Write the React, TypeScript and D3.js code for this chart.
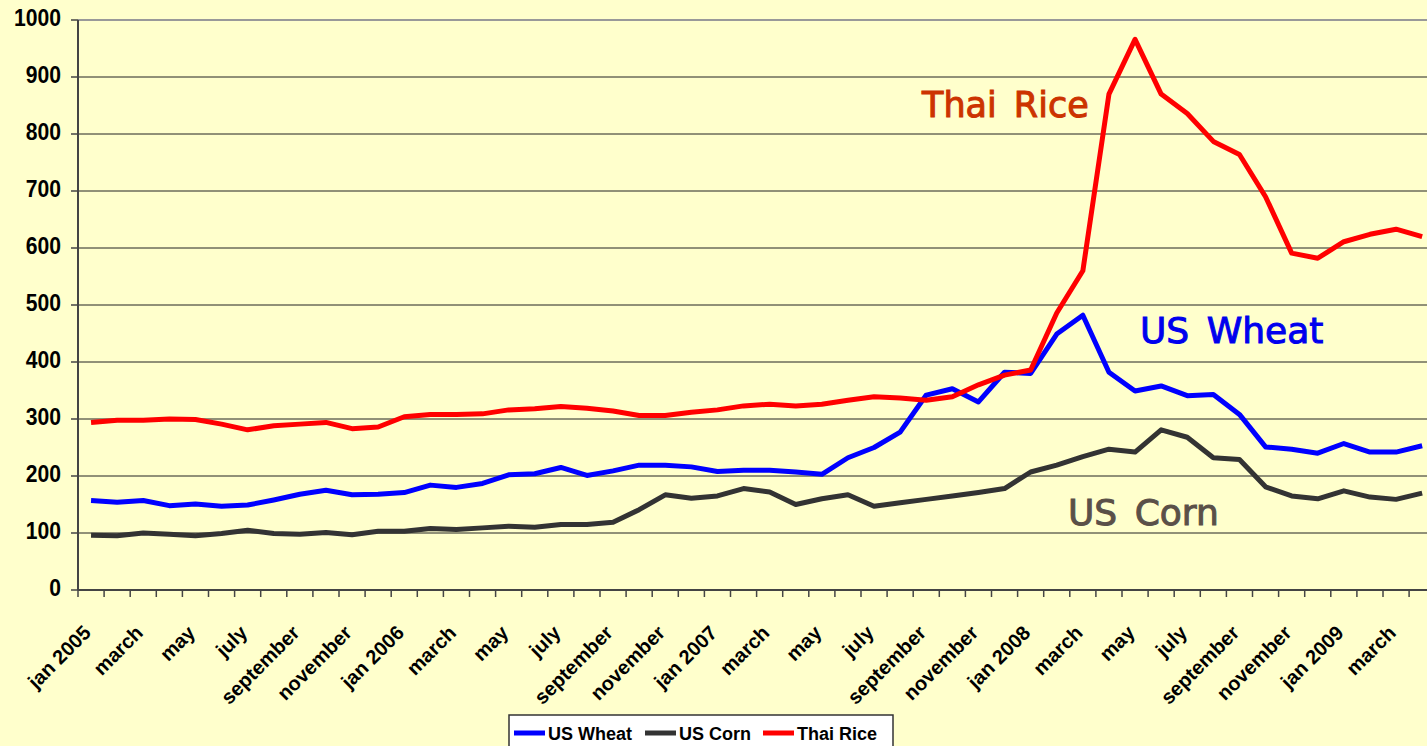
import * as d3 from 'd3';

// monthly prices, jan 2005 .. apr 2009 (52 months)
const usWheat = [
  157, 154, 157, 148, 151, 147, 149, 158, 168, 175, 167, 168,
  171, 184, 180, 187, 202, 204, 215, 201, 209, 219, 219, 216,
  208, 210, 210, 207, 203, 232, 250, 277, 342, 353, 330, 382,
  380, 449, 482, 382, 349, 358, 341, 343, 308, 251, 247, 240,
  257, 242, 242, 253,
];
const usCorn = [
  96, 95, 100, 98, 95, 99, 105, 99, 98, 101, 97, 103,
  103, 108, 106, 109, 112, 110, 115, 115, 119, 141, 167, 161,
  165, 178, 172, 150, 160, 167, 147, 153, 159, 165, 171, 178,
  207, 219, 234, 247, 242, 281, 268, 232, 229, 181, 165, 160,
  174, 163, 159, 170,
];
const thaiRice = [
  294, 298, 298, 300, 299, 291, 281, 288, 291, 294, 283, 286,
  304, 308, 308, 309, 316, 318, 322, 319, 314, 306, 306, 312,
  316, 323, 326, 323, 326, 333, 339, 337, 333, 339, 360, 377,
  386, 486, 560, 870, 966, 870, 836, 787, 764, 690, 591, 582,
  611, 624, 633, 620,
];
// one label every second month
const tickLabels = [
  'jan 2005', 'march', 'may', 'july', 'september', 'november',
  'jan 2006', 'march', 'may', 'july', 'september', 'november',
  'jan 2007', 'march', 'may', 'july', 'september', 'november',
  'jan 2008', 'march', 'may', 'july', 'september', 'november',
  'jan 2009', 'march',
];
const yTicks = [0, 100, 200, 300, 400, 500, 600, 700, 800, 900, 1000];

const series = [
  { name: 'US Wheat', values: usWheat, color: '#0000ff' },
  { name: 'US Corn', values: usCorn, color: '#333333' },
  { name: 'Thai Rice', values: thaiRice, color: '#ff0000' },
];

const W = 1427;
const H = 746;
const left = 78;
const step = 26.1;
const top = 20;
const bottom = 590;

export default function App() {
  const idx = d3.range(usWheat.length);
  const x = d3
    .scaleBand<number>()
    .domain(idx)
    .range([left, left + step * idx.length]);
  const bw = x.bandwidth();
  const cx = (i: number) => (x(i) ?? 0) + bw / 2;
  const y = d3.scaleLinear().domain([0, 1000]).range([bottom, top]);

  const line = (vals: number[]) =>
    d3
      .line<number>()
      .x((_, i) => cx(i))
      .y((d) => y(d))(vals) ?? '';

  const font = "'Liberation Sans', Arial, sans-serif";
  const noteFont = "'DejaVu Sans', Verdana, sans-serif";

  return (
    <svg
      width={W}
      height={H}
      style={{ position: 'absolute', left: 0, top: 0, background: '#ffffcc' }}
    >
      <rect x={0} y={0} width={W} height={H} fill="#ffffcc" />

      {/* grid */}
      {yTicks.map((t) => (
        <line
          key={t}
          x1={left}
          x2={W}
          y1={y(t)}
          y2={y(t)}
          stroke={t === 1000 ? '#999' : '#222'}
          strokeWidth={t === 1000 ? 2 : 1}
        />
      ))}

      {/* y axis */}
      <line x1={left} x2={left} y1={top} y2={bottom} stroke="#444" strokeWidth={2} />
      {yTicks.map((t) => (
        <g key={'y' + t}>
          <line x1={left - 7} x2={left} y1={y(t)} y2={y(t)} stroke="#444" strokeWidth={1.5} />
          {/* narrow bold digits, as in the original */}
          <text
            x={0}
            y={0}
            transform={`translate(61 ${y(t)}) scale(0.88 1)`}
            textAnchor="end"
            dominantBaseline="middle"
            fontFamily={font}
            fontWeight="bold"
            fontSize={24}
            fill="#000"
          >
            {t}
          </text>
        </g>
      ))}

      {/* x axis */}
      <line x1={left} x2={W} y1={bottom} y2={bottom} stroke="#444" strokeWidth={2} />
      {idx.map((i) => (
        <line
          key={'xt' + i}
          x1={x(i) ?? 0}
          x2={x(i) ?? 0}
          y1={bottom}
          y2={bottom + 7}
          stroke="#444"
          strokeWidth={1.5}
        />
      ))}
      {tickLabels.map((lab, k) => {
        const px = cx(k * 2) + 1;
        const py = 634;
        return (
          <text
            key={'xl' + k}
            x={px}
            y={py}
            transform={`rotate(-45 ${px} ${py})`}
            textAnchor="end"
            fontFamily={font}
            fontWeight="bold"
            fontSize={20}
            fill="#000"
          >
            {lab}
          </text>
        );
      })}

      {/* lines */}
      {series.map((s) => (
        <path
          key={s.name}
          d={line(s.values)}
          fill="none"
          stroke={s.color}
          strokeWidth={5}
          strokeLinejoin="round"
        />
      ))}

      {/* annotations */}
      <text x={922} y={117} fontFamily={noteFont} fontSize={35} fill="#cc3300" stroke="#cc3300" strokeWidth={1} wordSpacing={6}>
        Thai Rice
      </text>
      <text x={1140} y={343} fontFamily={noteFont} fontSize={36} fill="#0000ee" stroke="#0000ee" strokeWidth={1} wordSpacing={6}>
        US Wheat
      </text>
      <text x={1068} y={525} fontFamily={noteFont} fontSize={36} fill="#5a5048" stroke="#5a5048" strokeWidth={1} wordSpacing={6}>
        US Corn
      </text>

      {/* legend */}
      <rect x={509} y={715} width={384} height={40} fill="#fff" stroke="#333" strokeWidth={1.5} />
      {series.map((s, k) => {
        const offs = [514, 645, 763][k];
        return (
          <g key={'lg' + s.name}>
            <line x1={offs} x2={offs + 31} y1={733} y2={733} stroke={s.color} strokeWidth={5} />
            <text x={offs + 34} y={740} fontFamily={font} fontWeight="bold" fontSize={18} fill="#000">
              {s.name}
            </text>
          </g>
        );
      })}
    </svg>
  );
}
